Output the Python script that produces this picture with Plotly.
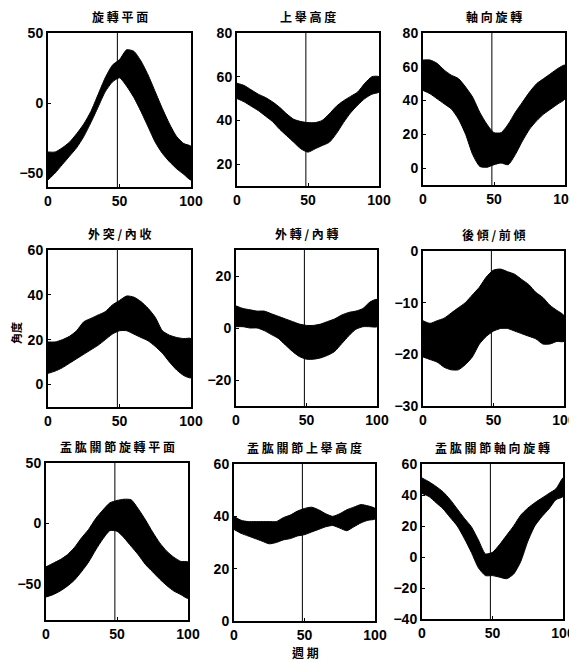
import plotly.graph_objects as go

cycle = [0, 5, 10, 15, 20, 25, 30, 35, 40, 45, 50, 55, 60, 65, 70, 75, 80, 85, 90, 95, 100]

titles = ["旋 轉 平 面", "上 舉 高 度", "軸 向 旋 轉",
          "外 突 / 內 收", "外 轉 / 內 轉", "後 傾 / 前 傾",
          "盂 肱 關 節 旋 轉 平 面", "盂 肱 關 節 上 舉 高 度", "盂 肱 關 節 軸 向 旋 轉"]

upper_1 = [-35, -35, -32, -28, -22, -15, -6, 6, 18, 27, 31, 38, 37, 30, 20, 8, -4, -15, -24, -29, -31]
lower_1 = [-55, -50, -44, -38, -32, -24, -14, -3, 8, 15, 18, 12, 4, -6, -17, -28, -36, -42, -47, -51, -55]
upper_2 = [57, 56, 54, 52, 50.5, 48.5, 46, 43, 40.5, 39.5, 39, 39, 40, 43, 46.5, 49, 51, 53, 57, 60, 60]
lower_2 = [50, 48.5, 46.5, 44.5, 42, 39.5, 36, 33, 30, 27, 25.5, 27, 28.5, 30, 34, 39, 43.5, 47, 50, 52, 53]
upper_3 = [64, 64, 62, 58, 55, 53, 48, 42, 33, 26, 21, 21, 26, 33, 39, 45, 50, 53, 56, 59, 61]
lower_3 = [46, 44, 41, 38, 35, 29, 20, 8, 1, 0.5, 2, 3, 2, 8, 16, 23, 28, 32, 35, 38, 41]
upper_4 = [19, 19, 20, 21.5, 24, 28, 29.5, 31, 32.5, 35.5, 37.5, 39.5, 39, 37, 34, 30, 24, 22, 21, 20.5, 20.5]
lower_4 = [5, 6, 7.5, 9.5, 11.5, 13.5, 15.5, 17.5, 20, 22.5, 24, 24, 22.5, 21, 19.5, 17, 14, 10, 6.5, 4, 3]
upper_5 = [8.5, 7.5, 7, 6.5, 6.5, 5.5, 4.5, 3.5, 2.5, 1.5, 1, 1, 1.5, 2.5, 3.5, 5, 6, 6.5, 7.5, 10, 11]
lower_5 = [0.5, 0.5, 0, 0, -1, -2.5, -4, -6.5, -9, -11, -12, -12, -11.5, -10.5, -9, -6, -3, -0.5, 0.5, 0.5, 0.5]
upper_6 = [-13.5, -14, -13.5, -13, -12, -11, -10, -8.5, -7, -5, -3.7, -3.5, -4, -4.5, -5.5, -6.5, -8, -9, -10.5, -11.5, -12.5]
lower_6 = [-20.5, -21, -21.5, -22.5, -23, -23, -22, -20.5, -18, -16.5, -15.5, -15, -15, -15.5, -16, -16.5, -17, -18, -18, -17.5, -17.5]
upper_7 = [-36, -33, -30, -26, -20, -12, -5, 4, 11, 17, 19, 20, 19.5, 12, 3, -7, -16, -23, -28, -31.5, -32]
lower_7 = [-61, -59, -56, -52, -47, -40, -32, -22, -13, -6, -6.5, -12, -19, -26, -34, -40, -46, -51.5, -56, -59, -62]
upper_8 = [40, 38.5, 38, 38, 38, 38, 38, 39.5, 40.5, 42, 43, 43.5, 42.5, 41, 40, 41, 42.5, 43.5, 44.5, 44, 43]
lower_8 = [35, 33.5, 32.5, 31.5, 30.5, 29.5, 30, 31, 31.5, 32.5, 33, 34, 35, 36, 36.5, 35.5, 34.5, 36, 37.5, 38.5, 39]
upper_9 = [51, 48.5, 45.5, 42, 37, 31, 25, 19.5, 11, 2, 3, 8, 14, 20, 27, 31.5, 35, 38, 41, 44, 51]
lower_9 = [41, 39, 35, 31, 25.5, 20, 12, 3, -7, -12, -12, -13, -14, -11, -3, 10, 20, 26, 31, 37, 39]

uppers = [upper_1, upper_2, upper_3, upper_4, upper_5, upper_6, upper_7, upper_8, upper_9]
lowers = [lower_1, lower_2, lower_3, lower_4, lower_5, lower_6, lower_7, lower_8, lower_9]

y_ranges = [[-60, 50], [10, 80], [-10, 80], [-10, 60], [-30, 30], [-30, 0], [-80, 50], [0, 60], [-40, 60]]
y_ticks = [[-50, 0, 50], [20, 40, 60, 80], [0, 20, 40, 60, 80], [0, 20, 40, 60], [-20, 0, 20],
           [-30, -20, -10, 0], [-50, 0, 50], [0, 20, 40, 60], [-40, -20, 0, 20, 40, 60]]
x_ticks = [0, 50, 100]
marker_x = 48.5

# page is offset by the default 8px body margin
OFF = 8
W, H = 577 - OFF, 660 - OFF

def px_x(p):
    return (p - OFF) / W

def px_y(p):
    return 1 - (p - OFF) / H

# pixel boxes in page coordinates (left, right, top, bottom)
boxes = [
    (48, 191, 33, 187), (237, 379, 33, 186), (423, 565, 33, 185),
    (48, 191, 250, 407), (236, 377, 250, 406), (423, 564, 251, 406),
    (46, 188, 463, 620), (234, 375, 464, 621), (422, 563, 464, 619),
]

fig = go.Figure()
tick_font = dict(family="Liberation Sans, Arial, sans-serif", size=14, color="black", weight="bold")
cjk = "Noto Sans CJK TC, Noto Sans CJK SC, sans-serif"

for i in range(9):
    n = i + 1
    xa = "x" if n == 1 else f"x{n}"
    ya = "y" if n == 1 else f"y{n}"
    xs = cycle + cycle[::-1]
    ys = uppers[i] + lowers[i][::-1]
    fig.add_trace(go.Scatter(x=xs, y=ys, fill="toself", fillcolor="black",
                             mode="lines", line=dict(color="black", width=1, shape="spline", smoothing=0.6),
                             xaxis=xa, yaxis=ya, showlegend=False, hoverinfo="skip"))
    l, r, t, b = boxes[i]
    xd = [px_x(l), px_x(r)]
    yd = [px_y(b), px_y(t)]
    axis_common = dict(showline=True, linecolor="black", linewidth=2, mirror=True,
                       ticks="inside", ticklen=3, tickwidth=1, tickcolor="black",
                       showgrid=False, zeroline=False, tickfont=tick_font, automargin=False)
    fig.update_layout(**{
        ("xaxis" if n == 1 else f"xaxis{n}"): dict(domain=xd, range=[0, 100], tickvals=x_ticks,
                                                    anchor=ya, **axis_common),
        ("yaxis" if n == 1 else f"yaxis{n}"): dict(domain=yd, range=y_ranges[i], tickvals=y_ticks[i],
                                                    anchor=xa, **axis_common),
    })
    fig.add_shape(type="line", xref=xa, yref=f"{ya} domain", x0=marker_x, x1=marker_x, y0=0, y1=1,
                  line=dict(color="black", width=1))
    fig.add_annotation(text=titles[i], xref="paper", yref="paper",
                       x=px_x((l + r) / 2), y=px_y(t - 17), showarrow=False,
                       font=dict(family=cjk, size=12, color="black", weight="bold"),
                       xanchor="center", yanchor="middle")

fig.add_annotation(text="角度", xref="paper", yref="paper", x=px_x(16), y=px_y(333),
                   textangle=-90, showarrow=False, xanchor="center", yanchor="middle",
                   font=dict(family=cjk, size=11, color="black", weight="bold"))
fig.add_annotation(text="週 期", xref="paper", yref="paper", x=px_x(305), y=px_y(652),
                   showarrow=False, xanchor="center", yanchor="middle",
                   font=dict(family=cjk, size=12, color="black", weight="bold"))

fig.update_layout(width=W, height=H, margin=dict(l=0, r=0, t=0, b=0, autoexpand=False),
                  plot_bgcolor="white", paper_bgcolor="white")
fig.write_html("out.html")
